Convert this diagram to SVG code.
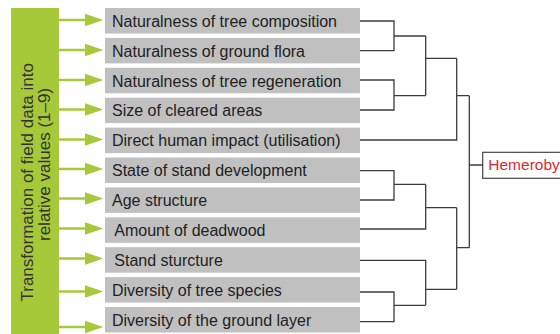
<svg xmlns="http://www.w3.org/2000/svg" width="560" height="334" viewBox="0 0 560 334">
<defs>
<style>
.box{fill:#c0c0c0}
.lbl{font-family:"Liberation Sans",Arial,sans-serif;font-size:16px;fill:#222}
.vt{font-family:"Liberation Sans",Arial,sans-serif;font-size:17px;fill:#333}
.arr{stroke:#a5c939;stroke-width:2.5;fill:none}
.head{fill:#a5c939}
.con{stroke:#3c3c3c;stroke-width:1.3;fill:none}
</style>
</defs>
<rect width="560" height="334" fill="#fff"/>
<g id="transform">
<rect x="11" y="8" width="48" height="326" fill="#a5c939"/>
<text class="vt" transform="translate(33,301.5) rotate(-90)">Transformation of field data into</text>
<text class="vt" transform="translate(49.5,241) rotate(-90)">relative values (1–9)</text>
</g>
<g id="arrows">
<path class="arr" d="M59,20H86 M59,50H86 M59,80H86 M59,109.5H86 M59,139.5H86 M59,169H86 M59,198.5H86 M59,228.5H86 M59,258.5H86 M59,291.5H86 M59,327H86"/>
<path class="head" d="M85,13.7L103.3,20L85,26.3Z M85,43.7L103.3,50L85,56.3Z M85,73.7L103.3,80L85,86.3Z M85,103.2L103.3,109.5L85,115.8Z M85,133.2L103.3,139.5L85,145.8Z M85,162.7L103.3,169L85,175.3Z M85,192.2L103.3,198.5L85,204.8Z M85,222.2L103.3,228.5L85,234.8Z M85,252.2L103.3,258.5L85,264.8Z M85,285.2L103.3,291.5L85,297.8Z M85,320.7L103.3,327L85,333.3Z"/>
</g>
<g id="n1"><rect class="box" x="105" y="8" width="255" height="25.5"/><text class="lbl" x="112" y="26.7">Naturalness of tree composition</text></g>
<g id="n2"><rect class="box" x="105" y="37.9" width="255" height="25.5"/><text class="lbl" x="112" y="56.6">Naturalness of ground flora</text></g>
<g id="n3"><rect class="box" x="105" y="67.8" width="255" height="25.5"/><text class="lbl" x="112" y="86.5">Naturalness of tree regeneration</text></g>
<g id="n4"><rect class="box" x="105" y="97.7" width="255" height="25.5"/><text class="lbl" x="112" y="116.4">Size of cleared areas</text></g>
<g id="n5"><rect class="box" x="105" y="127.6" width="255" height="25.5"/><text class="lbl" x="112" y="146.3">Direct human impact (utilisation)</text></g>
<g id="n6"><rect class="box" x="105" y="157.5" width="255" height="25.5"/><text class="lbl" x="112" y="176.2">State of stand development</text></g>
<g id="n7"><rect class="box" x="105" y="187.4" width="255" height="25.5"/><text class="lbl" x="112" y="206.1">Age structure</text></g>
<g id="n8"><rect class="box" x="105" y="217.3" width="255" height="25.5"/><text class="lbl" x="114.3" y="236">Amount of deadwood</text></g>
<g id="n9"><rect class="box" x="105" y="247.2" width="255" height="25.5"/><text class="lbl" x="114.3" y="265.9">Stand sturcture</text></g>
<g id="n10"><rect class="box" x="105" y="277.1" width="255" height="25.5"/><text class="lbl" x="112" y="295.8">Diversity of tree species</text></g>
<g id="n11"><rect class="box" x="105" y="307" width="255" height="25.5"/><text class="lbl" x="112" y="325.7">Diversity of the ground layer</text></g>
<g id="hemeroby">
<rect x="482.7" y="152.3" width="100" height="26" fill="#fff" stroke="#444" stroke-width="1.2"/>
<text x="488.3" y="170" font-family="'Liberation Sans',Arial,sans-serif" font-size="15.5" fill="#e3262e">Hemeroby</text>
</g>
<g id="connectors">
<path class="con" d="M360,21H394V50.7H360 M394,36H425.7 M360,80H394V110H360 M394,95.7H425.7 M425.7,36V95.7 M425.7,58.3H456.7 M360,140H456.7V58.3 M456.7,95.7H469.3"/>
<path class="con" d="M360,170.7H394V200H360 M394,184.3H425.7 M360,229H425.7V184.3 M425.7,207.7H456.7 M360,292H394V321.7H360 M394,305.3H425.7 M360,260.3H425.7V305.3 M425.7,289.3H456.7 M456.7,207.7V289.3 M456.7,247.7H469.3"/>
<path class="con" d="M469.3,95.7V247.7 M469.3,165H482.7"/>
</g>
</svg>
